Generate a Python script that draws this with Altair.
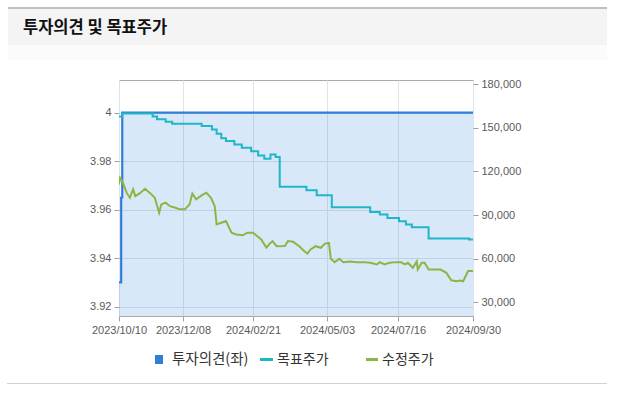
import altair as alt
import pandas as pd

# ---------------- data ----------------
opinion_dates = ["2023-10-10", "2023-10-12", "2023-10-13", "2024-09-30"]
opinion_vals = [3.93, 3.965, 4.0, 4.0]

target_dates = [
    "2023-10-10", "2023-10-13", "2023-11-10", "2023-11-14", "2023-11-22", "2023-11-28",
    "2023-12-28", "2024-01-08", "2024-01-13", "2024-01-18", "2024-01-23", "2024-02-01",
    "2024-02-09", "2024-02-19", "2024-02-26", "2024-03-03", "2024-03-09", "2024-03-14",
    "2024-03-18", "2024-04-13", "2024-04-23", "2024-05-08", "2024-06-17", "2024-06-27",
    "2024-07-05", "2024-07-17", "2024-07-24", "2024-07-30", "2024-08-16", "2024-09-26",
    "2024-09-30",
]
target_vals = [
    158000, 160000, 158000, 156000, 154300, 153000,
    151300, 149000, 146000, 143000, 141000, 138600,
    136300, 134000, 131000, 128800, 131700, 130000,
    109400, 107000, 103700, 95400, 92000, 90300,
    88000, 85700, 83400, 81600, 73800, 73100,
    73100,
]

price_dates = [
    "2023-10-10", "2023-10-11", "2023-10-13", "2023-10-17", "2023-10-20", "2023-10-23",
    "2023-10-25", "2023-10-29", "2023-11-03", "2023-11-08", "2023-11-12", "2023-11-16",
    "2023-11-18", "2023-11-22", "2023-11-26", "2023-12-01", "2023-12-05", "2023-12-10",
    "2023-12-15", "2023-12-18", "2023-12-22", "2023-12-28", "2024-01-02", "2024-01-07",
    "2024-01-11", "2024-01-13", "2024-01-18", "2024-01-23", "2024-01-29", "2024-02-03",
    "2024-02-10", "2024-02-15", "2024-02-21", "2024-02-29", "2024-03-05", "2024-03-08",
    "2024-03-11", "2024-03-15", "2024-03-23", "2024-03-26", "2024-03-31", "2024-04-06",
    "2024-04-11", "2024-04-14", "2024-04-17", "2024-04-22", "2024-04-27", "2024-05-01",
    "2024-05-05", "2024-05-07", "2024-05-11", "2024-05-16", "2024-05-20", "2024-05-27",
    "2024-06-03", "2024-06-10", "2024-06-17", "2024-06-24", "2024-06-27", "2024-07-02",
    "2024-07-07", "2024-07-14", "2024-07-19", "2024-07-23", "2024-07-26", "2024-07-31",
    "2024-08-04", "2024-08-05", "2024-08-09", "2024-08-12", "2024-08-16", "2024-08-21",
    "2024-08-28", "2024-09-03", "2024-09-08", "2024-09-13", "2024-09-17", "2024-09-20",
    "2024-09-25", "2024-09-30",
]
price_vals = [
    111000, 115600, 113400, 105400, 101900, 107700,
    103000, 104900, 108100, 104900, 101900, 91600,
    97300, 98500, 96100, 95000, 93900, 93900,
    97300, 104900, 100800, 103500, 105400, 101900,
    96100, 83500, 84700, 85800, 77800, 76600,
    76000, 77800, 77800, 73200, 67500, 70000,
    72000, 68500, 68600, 72000, 71500, 68500,
    65000, 63400, 66200, 68500, 67400, 70300,
    70700, 59800, 57500, 59800, 57500, 58000,
    57500, 57500, 57000, 55900, 57500, 55900,
    57000, 57500, 57500, 55900, 57000, 53600,
    58000, 52400, 57000, 57000, 52400, 52500,
    52400, 50100, 45000, 44300, 44800, 44300,
    51300, 51300,
]

tick_dates = ["2023-10-10", "2023-12-08", "2024-02-21", "2024-05-03", "2024-07-16", "2024-09-30"]
left_ticks = [3.92, 3.94, 3.96, 3.98, 4.0]
right_ticks = [30000, 60000, 90000, 120000, 150000, 180000]
legend_labels = ["투자의견(좌)", "목표주가", "수정주가"]
title_text = "투자의견 및 목표주가"

C_OPINION = "#2f7ed8"
C_TARGET = "#1fb6c8"
C_PRICE = "#8db543"


def ms(dates):
    return [int(v) for v in (pd.to_datetime(dates).astype("int64") // 10**6)]


# ---------------- frames ----------------
op_df = pd.DataFrame({"t": ms(opinion_dates), "v": opinion_vals})
tg_df = pd.DataFrame({"t": ms(target_dates), "p": target_vals})
pr_df = pd.DataFrame({"t": ms(price_dates), "p": price_vals})
one = pd.DataFrame({"k": [0]})

W, H = 354, 236
tick_ms = ms(tick_dates)
# axis positions of the six labelled dates (the source axis is not calendar-linear)
x_scale = alt.Scale(domain=tick_ms, range=[0, 64, 134, 208, 279, 354], nice=False, zero=False)
x_axis = alt.Axis(values=tick_ms, labelExpr="utcFormat(datum.value, '%Y/%m/%d')",
                  title=None, grid=True, labelOverlap=False, labelBound=False,
                  labelFlush=False)
X = alt.X("t:Q", scale=x_scale, axis=x_axis)

L_MIN, L_MAX = 3.9161, 4.0135
left_scale = alt.Scale(domain=[L_MIN, L_MAX], nice=False, zero=False)
left_axis = alt.Axis(orient="left", values=left_ticks,
                     labelExpr="datum.value >= 3.999 ? '4' : format(datum.value, '.2f')",
                     title=None, grid=True)
right_scale = alt.Scale(domain=[20350, 183100], nice=False, zero=False)
right_axis = alt.Axis(orient="right", values=right_ticks,
                      labelExpr="format(datum.value, ',')", title=None, grid=False)

fill = alt.Chart(op_df).mark_area(interpolate="step-after", color=C_OPINION,
                                  opacity=0.18, clip=True).encode(
    x=X, y=alt.Y("v:Q", scale=left_scale, axis=left_axis), y2=alt.Y2(datum=L_MIN))
op_line = alt.Chart(op_df).mark_line(interpolate="step-after", color=C_OPINION,
                                     strokeWidth=2.2, clip=True).encode(
    x=X, y=alt.Y("v:Q", scale=left_scale, axis=left_axis))
left = alt.layer(fill, op_line)

tg_line = alt.Chart(tg_df).mark_line(interpolate="step-after", color=C_TARGET,
                                     strokeWidth=2, clip=True).encode(
    x=X, y=alt.Y("p:Q", scale=right_scale, axis=right_axis))
pr_line = alt.Chart(pr_df).mark_line(color=C_PRICE, strokeWidth=2, clip=True).encode(
    x=X, y=alt.Y("p:Q", scale=right_scale, axis=right_axis))
right = alt.layer(tg_line, pr_line)

# ---------------- decorations (header, legend, rules) ----------------
FONT = "Noto Sans CJK KR"
header_bg = alt.Chart(one).mark_rect(color="#f4f4f4").encode(
    x=alt.value(-111), x2=alt.value(488), y=alt.value(-71), y2=alt.value(-35))
header_sub = alt.Chart(one).mark_rect(color="#fbfbfb").encode(
    x=alt.value(-111), x2=alt.value(488), y=alt.value(-35), y2=alt.value(-20))
top_rule = alt.Chart(one).mark_rule(color="#ababab", strokeWidth=1.5).encode(
    x=alt.value(-111), x2=alt.value(488), y=alt.value(-72))
bottom_rule = alt.Chart(one).mark_rule(color="#d2d2d2", strokeWidth=1).encode(
    x=alt.value(-112), x2=alt.value(488), y=alt.value(303.5))
title = alt.Chart(one).mark_text(text=title_text, font=FONT, fontSize=16.5, fontWeight="bold",
                                 color="#111111", align="left", baseline="middle").encode(
    x=alt.value(-96), y=alt.value(-52))

LY = 279.5
leg_sq = alt.Chart(one).mark_rect(color=C_OPINION).encode(
    x=alt.value(36), x2=alt.value(44), y=alt.value(LY - 4.5), y2=alt.value(LY + 4.5))
leg_t1 = alt.Chart(one).mark_text(text=legend_labels[0], font=FONT, fontSize=14.5, color="#333333",
                                  align="left", baseline="middle").encode(
    x=alt.value(53), y=alt.value(LY))
leg_d2 = alt.Chart(one).mark_rule(color=C_TARGET, strokeWidth=3).encode(
    x=alt.value(141), x2=alt.value(154), y=alt.value(LY))
leg_t2 = alt.Chart(one).mark_text(text=legend_labels[1], font=FONT, fontSize=14, color="#333333",
                                  align="left", baseline="middle").encode(
    x=alt.value(158), y=alt.value(LY))
leg_d3 = alt.Chart(one).mark_rule(color=C_PRICE, strokeWidth=3).encode(
    x=alt.value(247), x2=alt.value(259), y=alt.value(LY))
leg_t3 = alt.Chart(one).mark_text(text=legend_labels[2], font=FONT, fontSize=14, color="#333333",
                                  align="left", baseline="middle").encode(
    x=alt.value(263), y=alt.value(LY))

deco = alt.layer(header_bg, header_sub, top_rule, bottom_rule, title,
                 leg_sq, leg_t1, leg_d2, leg_t2, leg_d3, leg_t3)

chart = alt.layer(left, right, deco).resolve_scale(y="independent").properties(
    width=W, height=H,
    padding={"left": 119, "top": 80, "right": 618 - 119 - W, "bottom": 394 - 80 - H},
    autosize=alt.AutoSizeParams(type="none"),
    background="white",
).configure_view(stroke="#a9a9a9", strokeWidth=1).configure_axis(
    domain=False, tickColor="#a0a0a0", tickSize=5, labelColor="#5a5a5a",
    labelFont="Liberation Sans", labelFontSize=11, labelPadding=3,
    gridColor="#dfe3ea", gridWidth=1,
)

chart.save("out.html", embed_options={"renderer": "svg", "actions": False})
